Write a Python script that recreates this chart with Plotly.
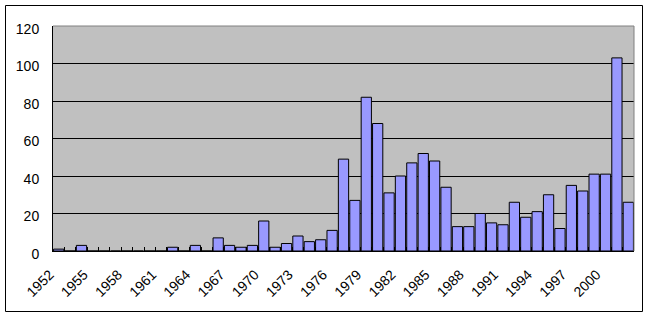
import plotly.graph_objects as go

years = list(range(1952, 2003))
counts = [1, 0, 3, 0, 0, 0, 0, 0, 0, 0,
          2, 0, 3, 0, 7, 3, 2, 3, 16, 2,
          4, 8, 5, 6, 11, 49, 27, 82, 68, 31,
          40, 47, 52, 48, 34, 13, 13, 20, 15, 14,
          26, 18, 21, 30, 12, 35, 32, 41, 41, 103,
          26]
label_years = list(range(1952, 2001, 3))
y_ticks = [0, 20, 40, 60, 80, 100, 120]

W, H = 649, 317
L, R, T, B = 53, 634, 26, 251
pw, ph = R - L, B - T

def px(x):
    return (x - L) / pw

def py(y):
    return (B - y) / ph

fig = go.Figure(go.Bar(
    x=years, y=counts,
    marker=dict(color="#9999FF", line=dict(color="black", width=1)),
    width=0.9,
))

fig.update_layout(
    width=W, height=H,
    margin=dict(l=L, r=W - R, t=T, b=H - B),
    paper_bgcolor="white", plot_bgcolor="#C0C0C0",
    showlegend=False,
    font=dict(family="Liberation Sans, Arial, sans-serif", size=14, color="black"),
    xaxis=dict(
        range=[1951.5, 2002.5],
        tickmode="array", tickvals=label_years, ticktext=[str(v) for v in label_years],
        tickangle=-45, ticks="", showgrid=False, zeroline=False,
        showline=True, linecolor="black", linewidth=1,
        ticklabelshift=-9, ticklabelstandoff=9,
        minor=dict(tickmode="array", tickvals=[y + 0.5 for y in years[:-1]],
                   ticks="inside", ticklen=4, tickcolor="black", showgrid=False),
        tickfont=dict(size=14),
    ),
    yaxis=dict(
        range=[0, 120], tickmode="array", tickvals=y_ticks,
        showgrid=True, gridcolor="black", gridwidth=1, zeroline=False,
        showline=True, linecolor="black", linewidth=1,
        ticks="", ticklabelstandoff=10, ticklabelshift=3,
        tickfont=dict(size=14),
    ),
    shapes=[
        dict(type="line", xref="paper", yref="paper", x0=0, x1=1, y0=1, y1=1,
             line=dict(color="#808080", width=1), layer="above"),
        dict(type="line", xref="paper", yref="paper", x0=1, x1=1, y0=0, y1=1,
             line=dict(color="#808080", width=1), layer="above"),
        dict(type="rect", xref="paper", yref="paper",
             x0=px(5.5), x1=px(642.5), y0=py(311.5), y1=py(5.5),
             line=dict(color="black", width=1), layer="above"),
    ],
)

fig.write_html("out.html")
